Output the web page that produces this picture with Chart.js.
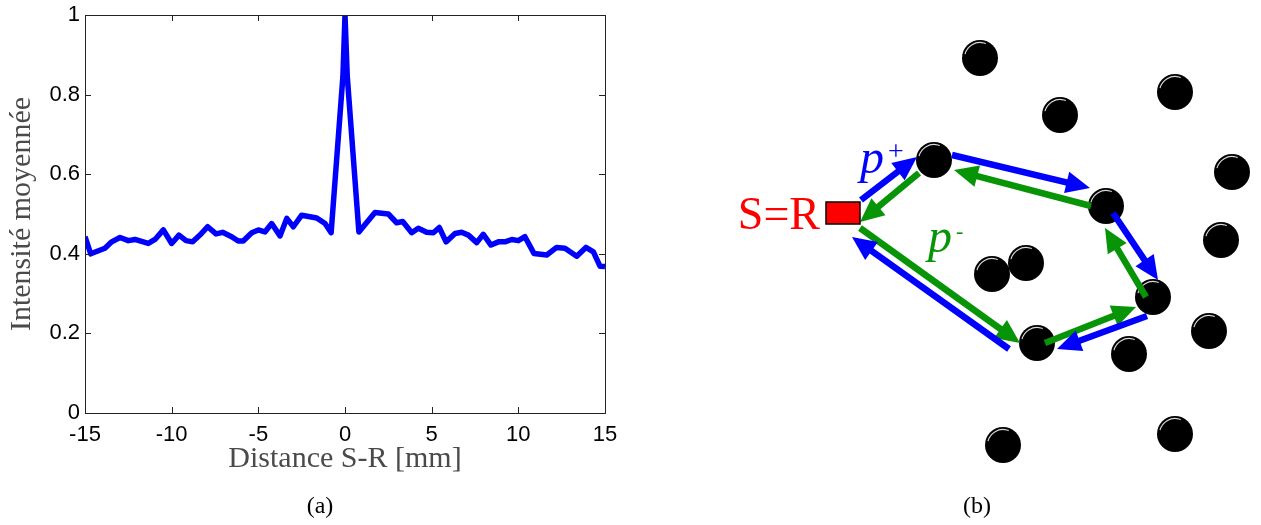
<!DOCTYPE html>
<html lang="fr">
<head>
    <meta charset="UTF-8">
    <title>Intensité moyennée</title>
    <script src="https://cdn.jsdelivr.net/npm/chart.js"></script>
    <style>
        body {
            margin: 0;
            background: #fff;
            width: 1261px;
            height: 525px;
            overflow: hidden;
            position: relative;
        }
        .panel {
            position: absolute;
            top: 0;
            height: 525px;
        }
        #panelA { left: 0; width: 620px; }
        #panelB { left: 620px; width: 641px; }
        .caption {
            position: absolute;
            top: 492px;
            font-family: "Liberation Serif", serif;
            font-size: 24px;
            color: #000;
            transform: translateX(-50%);
        }
    </style>
</head>
<body>
    <div class="panel" id="panelA"><canvas id="curveChart"></canvas></div>
    <div class="panel" id="panelB"><canvas id="pathChart"></canvas></div>
    <div class="caption" style="left:320px">(a)</div>
    <div class="caption" style="left:977px">(b)</div>

    <script>
        // (a) mean intensity vs source-receiver distance
        const distance = [-15.0, -14.67, -13.85, -13.46, -12.98, -12.5, -12.12, -11.35, -10.96, -10.48,
            -10.0, -9.58, -9.17, -8.79, -8.37, -7.92, -7.44, -7.06, -6.54, -6.16,
            -5.87, -5.38, -5.0, -4.62, -4.23, -3.75, -3.36, -2.98, -2.5, -2.02,
            -1.63, -1.15, -0.8, -0.12, 0.0, 0.13, 0.8, 1.73, 2.5, 2.98,
            3.33, 3.85, 4.23, 4.71, 5.1, 5.44, 5.83, 6.35, 6.73, 7.12,
            7.6, 7.98, 8.42, 8.85, 9.23, 9.62, 10.0, 10.38, 10.9, 11.64,
            12.21, 12.69, 13.37, 13.9, 14.33, 14.71, 15.0];
        const intensity = [0.443, 0.40, 0.414, 0.43, 0.441, 0.433, 0.436, 0.426, 0.436, 0.46,
            0.426, 0.447, 0.433, 0.43, 0.447, 0.468, 0.45, 0.454, 0.443, 0.432,
            0.432, 0.453, 0.46, 0.455, 0.476, 0.445, 0.489, 0.468, 0.497, 0.493,
            0.49, 0.476, 0.453, 0.846, 1.0, 0.846, 0.455, 0.504, 0.5, 0.478,
            0.481, 0.453, 0.464, 0.454, 0.453, 0.466, 0.43, 0.451, 0.454, 0.447,
            0.428, 0.449, 0.422, 0.43, 0.43, 0.436, 0.433, 0.443, 0.401, 0.397,
            0.416, 0.414, 0.394, 0.416, 0.405, 0.369, 0.368];

        // (b) scatterers and the two reciprocal paths
        const scattererX = [360, 555, 440, 314, 612, 486, 601, 372, 406, 533, 589, 417, 509, 383, 555];
        const scattererY = [58, 92, 115, 160, 172, 206, 240, 274, 263, 297, 331, 343, 354, 445, 434];
        const sourceX = [223];
        const sourceY = [213];
        const plusFromX = [241, 332, 493, 527, 389];
        const plusFromY = [200, 155, 213, 316, 349];
        const plusToX = [297, 470, 538, 437, 232];
        const plusToY = [157, 188, 280, 349, 237];
        const minusFromX = [240, 425, 526, 471, 299];
        const minusFromY = [228, 343, 297, 206, 173];
        const minusToX = [400, 516, 485, 334, 240];
        const minusToY = [343, 307, 228, 170, 222];

        const SANS = '"Liberation Sans", Arial, sans-serif';
        const SERIF = '"Liberation Serif", "Times New Roman", serif';

        // matlab style box with ticks pointing inward
        const boxTicks = {
            id: 'boxTicks',
            afterDraw(chart) {
                const {ctx, chartArea: a, scales} = chart;
                const len = 6;
                ctx.save();
                ctx.strokeStyle = '#222';
                ctx.lineWidth = 1;
                ctx.strokeRect(Math.round(a.left) + 0.5, Math.round(a.top) + 0.5,
                    Math.round(a.right - a.left), Math.round(a.bottom - a.top));
                ctx.beginPath();
                scales.x.ticks.forEach(t => {
                    const px = Math.round(scales.x.getPixelForValue(t.value)) + 0.5;
                    ctx.moveTo(px, a.bottom); ctx.lineTo(px, a.bottom - len);
                    ctx.moveTo(px, a.top); ctx.lineTo(px, a.top + len);
                });
                scales.y.ticks.forEach(t => {
                    const py = Math.round(scales.y.getPixelForValue(t.value)) + 0.5;
                    ctx.moveTo(a.left, py); ctx.lineTo(a.left + len, py);
                    ctx.moveTo(a.right, py); ctx.lineTo(a.right - len, py);
                });
                ctx.stroke();
                ctx.restore();
            }
        };

        new Chart(document.getElementById('curveChart'), {
            type: 'line',
            data: {
                datasets: [{
                    data: distance.map((d, i) => ({x: d, y: intensity[i]})),
                    borderColor: '#0000ff',
                    borderWidth: 5.5,
                    borderJoinStyle: 'round',
                    pointRadius: 0,
                    tension: 0,
                    clip: 0
                }]
            },
            options: {
                responsive: true,
                maintainAspectRatio: false,
                animation: false,
                events: [],
                layout: { autoPadding: false, padding: { top: 15, right: 15, left: 0, bottom: 0 } },
                plugins: { legend: { display: false }, tooltip: { enabled: false } },
                scales: {
                    x: {
                        type: 'linear',
                        min: -15,
                        max: 15,
                        afterFit: s => { s.height = 112; s.paddingLeft = 0; s.paddingRight = 0; },
                        grid: { display: false, drawTicks: false },
                        border: { display: false },
                        ticks: {
                            stepSize: 5,
                            autoSkip: false,
                            maxRotation: 0,
                            padding: 9,
                            color: '#000',
                            font: { family: SANS, size: 22 }
                        },
                        title: {
                            display: true,
                            text: 'Distance S-R [mm]',
                            color: '#4a4a4a',
                            font: { family: SERIF, size: 30 },
                            padding: { top: 0, bottom: 48 }
                        }
                    },
                    y: {
                        min: 0,
                        max: 1,
                        afterFit: s => { s.width = 85; s.paddingTop = 0; s.paddingBottom = 0; },
                        grid: { display: false, drawTicks: false },
                        border: { display: false },
                        ticks: {
                            stepSize: 0.2,
                            padding: 5,
                            color: '#000',
                            font: { family: SANS, size: 22 },
                            callback: v => String(Number(v.toFixed(2)))
                        },
                        title: {
                            display: true,
                            text: 'Intensité moyennée',
                            color: '#4a4a4a',
                            font: { family: SERIF, size: 30 },
                            padding: { top: 4, bottom: 0 }
                        }
                    }
                }
            },
            plugins: [boxTicks]
        });

        // point images for the scatterers and the source/receiver
        function ballImage() {
            const c = document.createElement('canvas');
            c.width = 38; c.height = 38;
            const g = c.getContext('2d');
            g.fillStyle = '#000';
            g.beginPath(); g.arc(19, 19, 18, 0, Math.PI * 2); g.fill();
            g.strokeStyle = 'rgba(255,255,255,0.85)';
            g.lineWidth = 1.2;
            g.beginPath(); g.arc(19, 19, 15.5, Math.PI * 1.08, Math.PI * 1.62); g.stroke();
            return c;
        }
        function boxImage() {
            const c = document.createElement('canvas');
            c.width = 36; c.height = 24;
            const g = c.getContext('2d');
            g.fillStyle = '#ff0000';
            g.fillRect(1, 1, 34, 22);
            g.strokeStyle = '#000';
            g.lineWidth = 1.5;
            g.strokeRect(1, 1, 34, 22);
            return c;
        }

        const HEAD_LEN = 24;
        const HEAD_HALF = 11;

        // shorten the shaft under the head, then draw the head
        const arrowHeads = {
            id: 'arrowHeads',
            beforeDatasetDraw(chart, args) {
                const ds = chart.data.datasets[args.index];
                if (!ds.arrow) return;
                const [a, b] = args.meta.data;
                const dx = b.x - a.x, dy = b.y - a.y, l = Math.hypot(dx, dy);
                args.meta._tip = {x: b.x, y: b.y, ux: dx / l, uy: dy / l};
                b.x -= dx / l * (HEAD_LEN - 3);
                b.y -= dy / l * (HEAD_LEN - 3);
            },
            afterDatasetDraw(chart, args) {
                const ds = chart.data.datasets[args.index];
                if (!ds.arrow) return;
                const t = args.meta._tip;
                const b = args.meta.data[1];
                b.x = t.x; b.y = t.y;
                const bx = t.x - t.ux * HEAD_LEN, by = t.y - t.uy * HEAD_LEN;
                const ctx = chart.ctx;
                ctx.save();
                ctx.fillStyle = ds.borderColor;
                ctx.beginPath();
                ctx.moveTo(t.x, t.y);
                ctx.lineTo(bx - t.uy * HEAD_HALF, by + t.ux * HEAD_HALF);
                ctx.lineTo(bx + t.uy * HEAD_HALF, by - t.ux * HEAD_HALF);
                ctx.closePath();
                ctx.fill();
                ctx.restore();
            }
        };

        // labels placed in diagram coordinates
        const diagramLabels = {
            id: 'diagramLabels',
            afterDatasetsDraw(chart) {
                const {ctx, scales: {x, y}} = chart;
                const put = (txt, dx, dy, font, color, align) => {
                    ctx.font = font;
                    ctx.fillStyle = color;
                    ctx.textAlign = align || 'left';
                    ctx.textBaseline = 'alphabetic';
                    ctx.fillText(txt, x.getPixelForValue(dx), y.getPixelForValue(dy));
                };
                ctx.save();
                put('S=R', 200, 229, '46px ' + SERIF, '#ff0000', 'right');
                put('p', 240, 173, 'italic 48px ' + SERIF, '#0000ff');
                put('+', 268, 160, '28px ' + SERIF, '#0000ff');
                put('p', 308, 252, 'italic 48px ' + SERIF, '#079407');
                put('-', 336, 238, '22px ' + SERIF, '#079407');
                ctx.restore();
            }
        };

        const arrowSet = (fx, fy, tx, ty, color) => fx.map((v, i) => ({
            type: 'line',
            data: [{x: v, y: fy[i]}, {x: tx[i], y: ty[i]}],
            borderColor: color,
            borderWidth: 6.5,
            borderCapStyle: 'butt',
            pointRadius: 0,
            arrow: true,
            order: 0
        }));

        new Chart(document.getElementById('pathChart'), {
            type: 'scatter',
            data: {
                datasets: [
                    {
                        data: sourceX.map((v, i) => ({x: v, y: sourceY[i]})),
                        pointStyle: boxImage(),
                        pointRadius: 12,
                        order: -1
                    },
                    ...arrowSet(plusFromX, plusFromY, plusToX, plusToY, '#0000ff'),
                    ...arrowSet(minusFromX, minusFromY, minusToX, minusToY, '#079407'),
                    {
                        data: scattererX.map((v, i) => ({x: v, y: scattererY[i]})),
                        pointStyle: ballImage(),
                        pointRadius: 18,
                        order: 10
                    }
                ]
            },
            options: {
                responsive: true,
                maintainAspectRatio: false,
                animation: false,
                events: [],
                layout: { autoPadding: false, padding: 0 },
                plugins: { legend: { display: false }, tooltip: { enabled: false } },
                scales: {
                    x: { type: 'linear', min: 0, max: 641, display: false },
                    y: { type: 'linear', min: 0, max: 525, reverse: true, display: false }
                }
            },
            plugins: [arrowHeads, diagramLabels]
        });
    </script>
</body>
</html>
